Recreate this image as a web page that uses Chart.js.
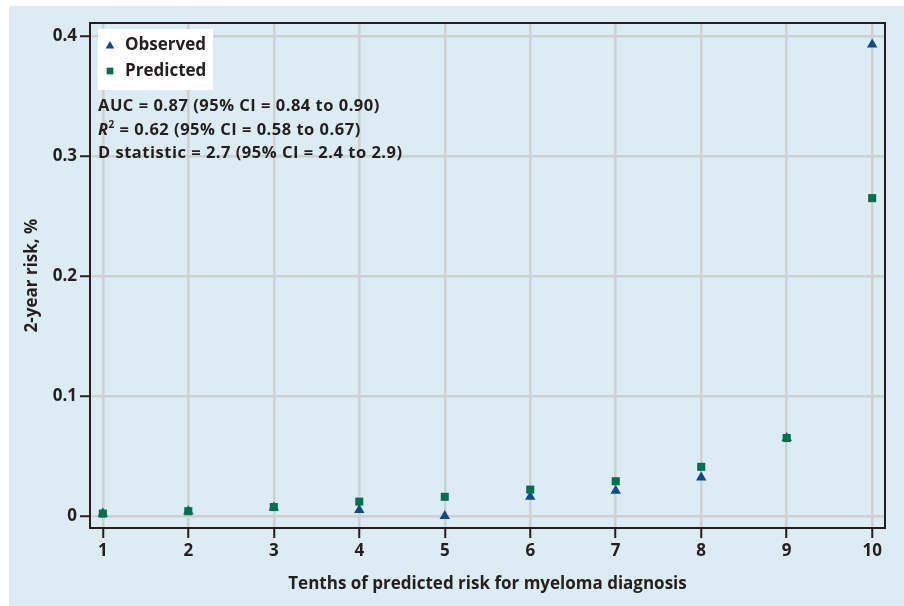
<!DOCTYPE html>
<html>
<head>
<meta charset="utf-8">
<script src="https://cdn.jsdelivr.net/npm/chart.js@4.4.0/dist/chart.umd.min.js"></script>
<style>
  html, body { margin: 0; padding: 0; background: #fff; }
  #wrap { width: 904px; height: 606px; }
</style>
</head>
<body>
<div id="wrap"><canvas id="chart" width="904" height="606"></canvas></div>
<script>
// tenths of predicted risk
const deciles = [1, 2, 3, 4, 5, 6, 7, 8, 9, 10];
const observed = [0.002, 0.004, 0.007, 0.005, 0.0, 0.016, 0.021, 0.032, 0.065, 0.393];
const predicted = [0.002, 0.004, 0.0075, 0.012, 0.016, 0.022, 0.029, 0.041, 0.065, 0.265];
const yTicks = [0, 0.1, 0.2, 0.3, 0.4];
const yTickLabels = ["0", "0.1", "0.2", "0.3", "0.4"];
const statsLines = [
  "AUC = 0.87 (95% CI = 0.84 to 0.90)",
  " = 0.62 (95% CI = 0.58 to 0.67)",
  "D statistic = 2.7 (95% CI = 2.4 to 2.9)"
];

const BLUE = "#0b4a8b";
const GREEN = "#00704f";
const INK = "#231f20";
const GRID = "#cfd0d1";
const FONT = "'Open Sans'";

// light blue panel behind everything
const panelBg = {
  id: "panelBg",
  beforeDraw(chart) {
    const ctx = chart.ctx;
    ctx.save();
    ctx.fillStyle = "#ffffff";
    ctx.fillRect(0, 0, chart.width, chart.height);
    ctx.fillStyle = "#ddebf3";
    ctx.fillRect(9, 6, chart.width - 9, chart.height - 6);
    ctx.restore();
  }
};

// frame, legend box and the stats text
const overlay = {
  id: "overlay",
  afterDatasetsDraw(chart) {
    const { ctx, chartArea: a } = chart;
    ctx.save();
    ctx.strokeStyle = INK;
    ctx.lineWidth = 2;
    ctx.strokeRect(a.left, a.top, a.right - a.left, a.bottom - a.top);

    // legend
    ctx.fillStyle = "#ffffff";
    ctx.fillRect(98, 29, 115, 61);
    chart.data.datasets.forEach((ds, i) => {
      const y = 45 + i * 26;
      Chart.helpers.drawPoint(ctx, {
        pointStyle: ds.pointStyle,
        radius: ds.pointStyle === "triangle" ? 5 : 4.5,
        rotation: 0,
        borderWidth: 0
      }, 110, y + (ds.pointStyle === "triangle" ? 1 : 0));
      ctx.fillStyle = ds.backgroundColor;
      ctx.fill();
      ctx.fillStyle = INK;
      ctx.font = "bold 17px " + FONT;
      ctx.textBaseline = "middle";
      ctx.textAlign = "left";
      ctx.fillText(ds.label, 125, y);
    });

    // stats
    ctx.fillStyle = INK;
    ctx.letterSpacing = "0.5px";
    ctx.font = "bold 16.5px " + FONT;
    ctx.textBaseline = "middle";
    ctx.fillText(statsLines[0], 98, 106);
    ctx.font = "italic bold 16.5px " + FONT;
    ctx.fillText("R", 98, 130);
    const rw = ctx.measureText("R").width;
    ctx.font = "bold 10px " + FONT;
    ctx.fillText("2", 98 + rw, 125);
    const sw = ctx.measureText("2").width;
    ctx.font = "bold 16.5px " + FONT;
    ctx.fillText(statsLines[1], 98 + rw + sw, 130);
    ctx.fillText(statsLines[2], 98, 153);
    ctx.restore();
  }
};

const tickFont = { family: FONT, size: 17, weight: "bold" };

new Chart(document.getElementById("chart"), {
  type: "scatter",
  data: {
    datasets: [
      {
        label: "Observed",
        data: deciles.map((d, i) => ({ x: d, y: observed[i] })),
        pointStyle: "triangle",
        pointRadius: 6,
        backgroundColor: BLUE,
        borderColor: BLUE,
        borderWidth: 0,
        order: 1
      },
      {
        label: "Predicted",
        data: deciles.map((d, i) => ({ x: d, y: predicted[i] })),
        pointStyle: "rect",
        pointRadius: 5.7,
        backgroundColor: GREEN,
        borderColor: GREEN,
        borderWidth: 0,
        order: 0
      }
    ]
  },
  options: {
    responsive: false,
    animation: false,
    devicePixelRatio: 1,
    layout: { padding: { left: 0, top: 23, right: 19, bottom: 0 } },
    plugins: {
      legend: { display: false },
      tooltip: { enabled: false }
    },
    scales: {
      x: {
        type: "linear",
        min: 0.85,
        max: 10.15,
        afterBuildTicks: (s) => { s.ticks = deciles.map((v) => ({ value: v })); },
        afterFit: (s) => { s.height = 78; },
        ticks: {
          color: INK,
          font: tickFont,
          padding: 3,
          callback: (v) => String(v)
        },
        grid: {
          color: GRID,
          lineWidth: 2.5,
          tickColor: INK,
          tickWidth: 2,
          tickLength: 10
        },
        border: { display: false },
        title: {
          display: true,
          text: "Tenths of predicted risk for myeloma diagnosis",
          color: INK,
          font: tickFont,
          padding: { top: 0, bottom: 12 }
        }
      },
      y: {
        type: "linear",
        min: -0.01,
        max: 0.411,
        afterBuildTicks: (s) => { s.ticks = yTicks.map((v) => ({ value: v })); },
        afterFit: (s) => { s.width = 90; },
        ticks: {
          color: INK,
          font: tickFont,
          padding: 3,
          callback: (v) => yTickLabels[yTicks.indexOf(v)]
        },
        grid: {
          color: GRID,
          lineWidth: 2.5,
          tickColor: INK,
          tickWidth: 2,
          tickLength: 10
        },
        border: { display: false },
        title: {
          display: true,
          text: "2-year risk, %",
          color: INK,
          font: tickFont,
          padding: { top: 22, bottom: 0 }
        }
      }
    }
  },
  plugins: [panelBg, overlay]
});
</script>
</body>
</html>
